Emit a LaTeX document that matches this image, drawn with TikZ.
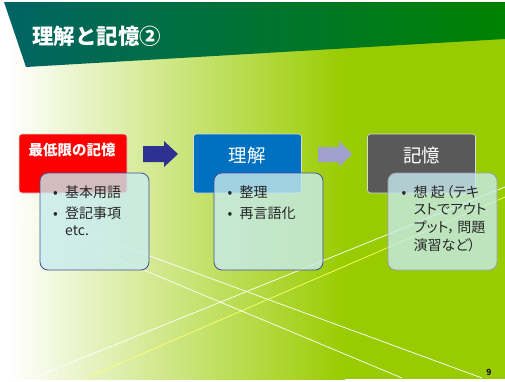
\documentclass[tikz,border=0pt]{standalone}
\usepackage{fontspec}
\setmainfont{Noto Sans CJK JP}
\newfontfamily\propfont[RawFeature=+palt]{Noto Sans CJK JP}
\usetikzlibrary{positioning}

\definecolor{slidegreen}{RGB}{153,204,0}
\definecolor{bandteal}{RGB}{0,100,100}
\definecolor{bandgreen}{RGB}{0,130,0}
\definecolor{lineyellow}{RGB}{255,255,110}
\definecolor{boxred}{RGB}{255,0,0}
\definecolor{boxblue}{RGB}{0,112,192}
\definecolor{boxgray}{RGB}{89,89,89}
\definecolor{arrownavy}{RGB}{46,49,146}
\definecolor{arrowlilac}{RGB}{160,160,205}
\definecolor{detfill}{RGB}{200,235,238}
\definecolor{detline}{RGB}{70,80,150}
\definecolor{detgray}{RGB}{150,160,180}

\newcommand{\bitem}[1]{\makebox[12pt][l]{•}#1}
\newcommand{\bcont}[1]{\hspace*{12pt}#1}

\begin{document}
\begin{tikzpicture}[x=1pt, y=-1pt,
	headbox/.style={rounded corners=3pt, minimum width=108pt, minimum height=59pt, draw=white!85!black, line width=0.6pt},
	detbox/.style={rounded corners=8pt, minimum width=109pt, minimum height=97pt, fill=detfill, fill opacity=0.8, draw=detline, line width=0.8pt},
	headtext/.style={text=white, inner sep=0pt, font=\fontsize{18.5}{18.5}\selectfont},
	bultext/.style={anchor=north west, align=left, inner sep=0pt, text=black!85, font=\fontsize{14}{17.7}\selectfont},
	deco/.style={line width=0.7pt}]
	\useasboundingbox (0,0) rectangle (505,381);
	%background
	\fill[white] (0,2) rectangle (10,379);
	\shade[left color=white, right color=slidegreen] (10,2) rectangle (345,379);
	\fill[slidegreen] (345,2) rectangle (505,379);
	%header band
	\shade[left color=bandteal, right color=bandgreen] (4,2) -- (505,2) -- (505,39) -- (26,67) -- cycle;
	\node[text=white, inner sep=0pt, anchor=west, font=\fontsize{21.5}{21.5}\selectfont\bfseries] (title) at (32,36) {理解と記憶②};
	%crossing lines
	\begin{scope}
		\clip (0,2) rectangle (505,379);
		\draw[deco, white] (33,378) -- (505,187);
		\draw[deco, lineyellow] (86,378) -- (505,197);
		\draw[deco, white] (0,201) -- (482,378);
		\draw[deco, white] (0,210) -- (402,378);
	\end{scope}
	%top boxes
	\node[headbox, fill=boxred] (minbox) at (73,163.5) {};
	\node[headbox, fill=boxblue] (rikaibox) at (247.5,163.5) {};
	\node[headbox, fill=boxgray] (kiokubox) at (421.5,163.5) {};
	\node[headtext, font=\fontsize{14.5}{14.5}\selectfont\bfseries] (minlbl) at (72,150) {最低限の記憶};
	\node[headtext] (rikailbl) at (247,155) {理解};
	\node[headtext] (kiokulbl) at (421.5,155) {記憶};
	%block arrows
	\fill[arrownavy] (143,146) -- (164,146) -- (164,141) -- (178,154) -- (164,167) -- (164,162) -- (143,162) -- cycle;
	\fill[arrowlilac] (318,147) -- (339,147) -- (339,141) -- (352,154) -- (339,167) -- (339,162) -- (318,162) -- cycle;
	%detail boxes
	\node[detbox] (mindet) at (94.5,221.5) {};
	\node[detbox] (rikaidet) at (268.5,221.5) {};
	\node[detbox, draw=detgray] (kiokudet) at (442.5,221.5) {};
	\node[bultext] (minitems) at (53,186) {\bitem{基本用語}\\[2.5pt]\bitem{登記事項}\\\bcont{etc.}};
	\node[bultext] (rikaiitems) at (227.5,186) {\bitem{整理}\\[2.5pt]\bitem{再言語化}};
	\node[bultext, font=\fontsize{14}{17.7}\selectfont\propfont] (kiokuitems) at (401.5,185) {\bitem{想 起\hspace{1.5pt}（テキ}\\\bcont{ストでアウト}\\\bcont{プット，\hspace{2.5pt}問題}\\\bcont{演習など）}};
	%page number
	\node[inner sep=0pt, text=black!90, font=\fontsize{8.5}{8.5}\selectfont\bfseries] (pgno) at (489,372) {9};
\end{tikzpicture}
\end{document}
